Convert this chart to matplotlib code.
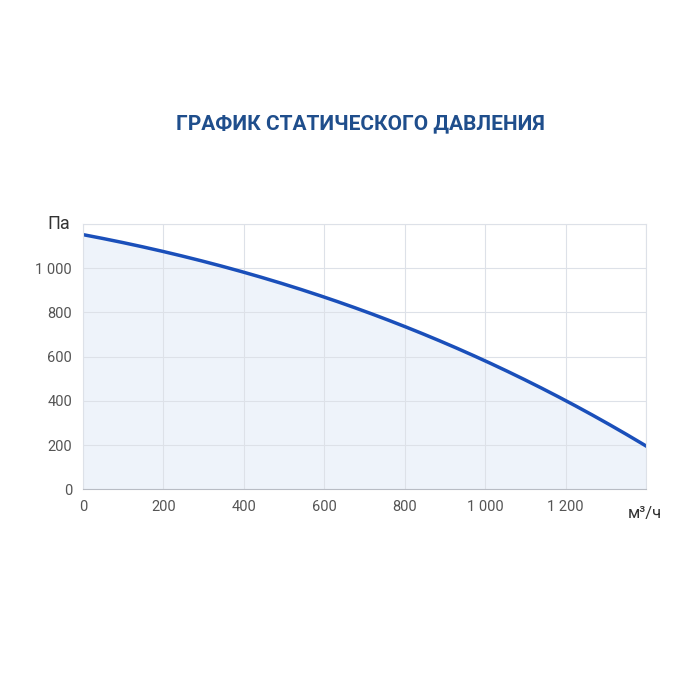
import numpy as np
import matplotlib.pyplot as plt

plt.rcParams['font.family'] = ['Roboto', 'DejaVu Sans']

flow = [0, 200, 400, 600, 800, 1000, 1200, 1400]
pressure = [1150, 1080, 980, 867, 736, 582, 402, 195]
xticks = [0, 200, 400, 600, 800, 1000, 1200]
yticks = [0, 200, 400, 600, 800, 1000]

def fmt(v):
    return f"{v:,}".replace(",", " ")

# smooth curve through the read points
xs = np.linspace(0, 1400, 200)
coef = np.polyfit(flow, pressure, 3)
ys = np.polyval(coef, xs)

fig = plt.figure(figsize=(7, 7), dpi=100)
ax = fig.add_axes([0.1186, 0.301, 0.8044, 0.379])
ax.fill_between(xs, ys, 0, color='#eef3fa')
ax.plot(xs, ys, color='#1a4fba', lw=2.5)
ax.set_xlim(0, 1400)
ax.set_ylim(0, 1200)
ax.set_xticks(xticks + [1400])
ax.set_xticklabels([fmt(v) for v in xticks] + [''])
ax.set_yticks(yticks + [1200])
ax.set_yticklabels([fmt(v) for v in yticks] + [''])
ax.grid(color='#dde1e8', lw=0.8)
for s in ax.spines.values():
    s.set_color('#dde1e8')
ax.spines['bottom'].set_color('#b8bcc4')
ax.tick_params(length=0, colors='#555555', labelsize=10.5, pad=8)
fig.text(0.068, 0.68, 'Па', fontsize=13, color='#333333', va='center')
fig.text(0.897, 0.266, 'м³/ч', fontsize=12, color='#333333', va='center')
fig.text(0.515, 0.823, 'ГРАФИК СТАТИЧЕСКОГО ДАВЛЕНИЯ', fontsize=15,
         fontweight='bold', color='#1f4e8c', ha='center', va='center')
fig.savefig('out.png')
